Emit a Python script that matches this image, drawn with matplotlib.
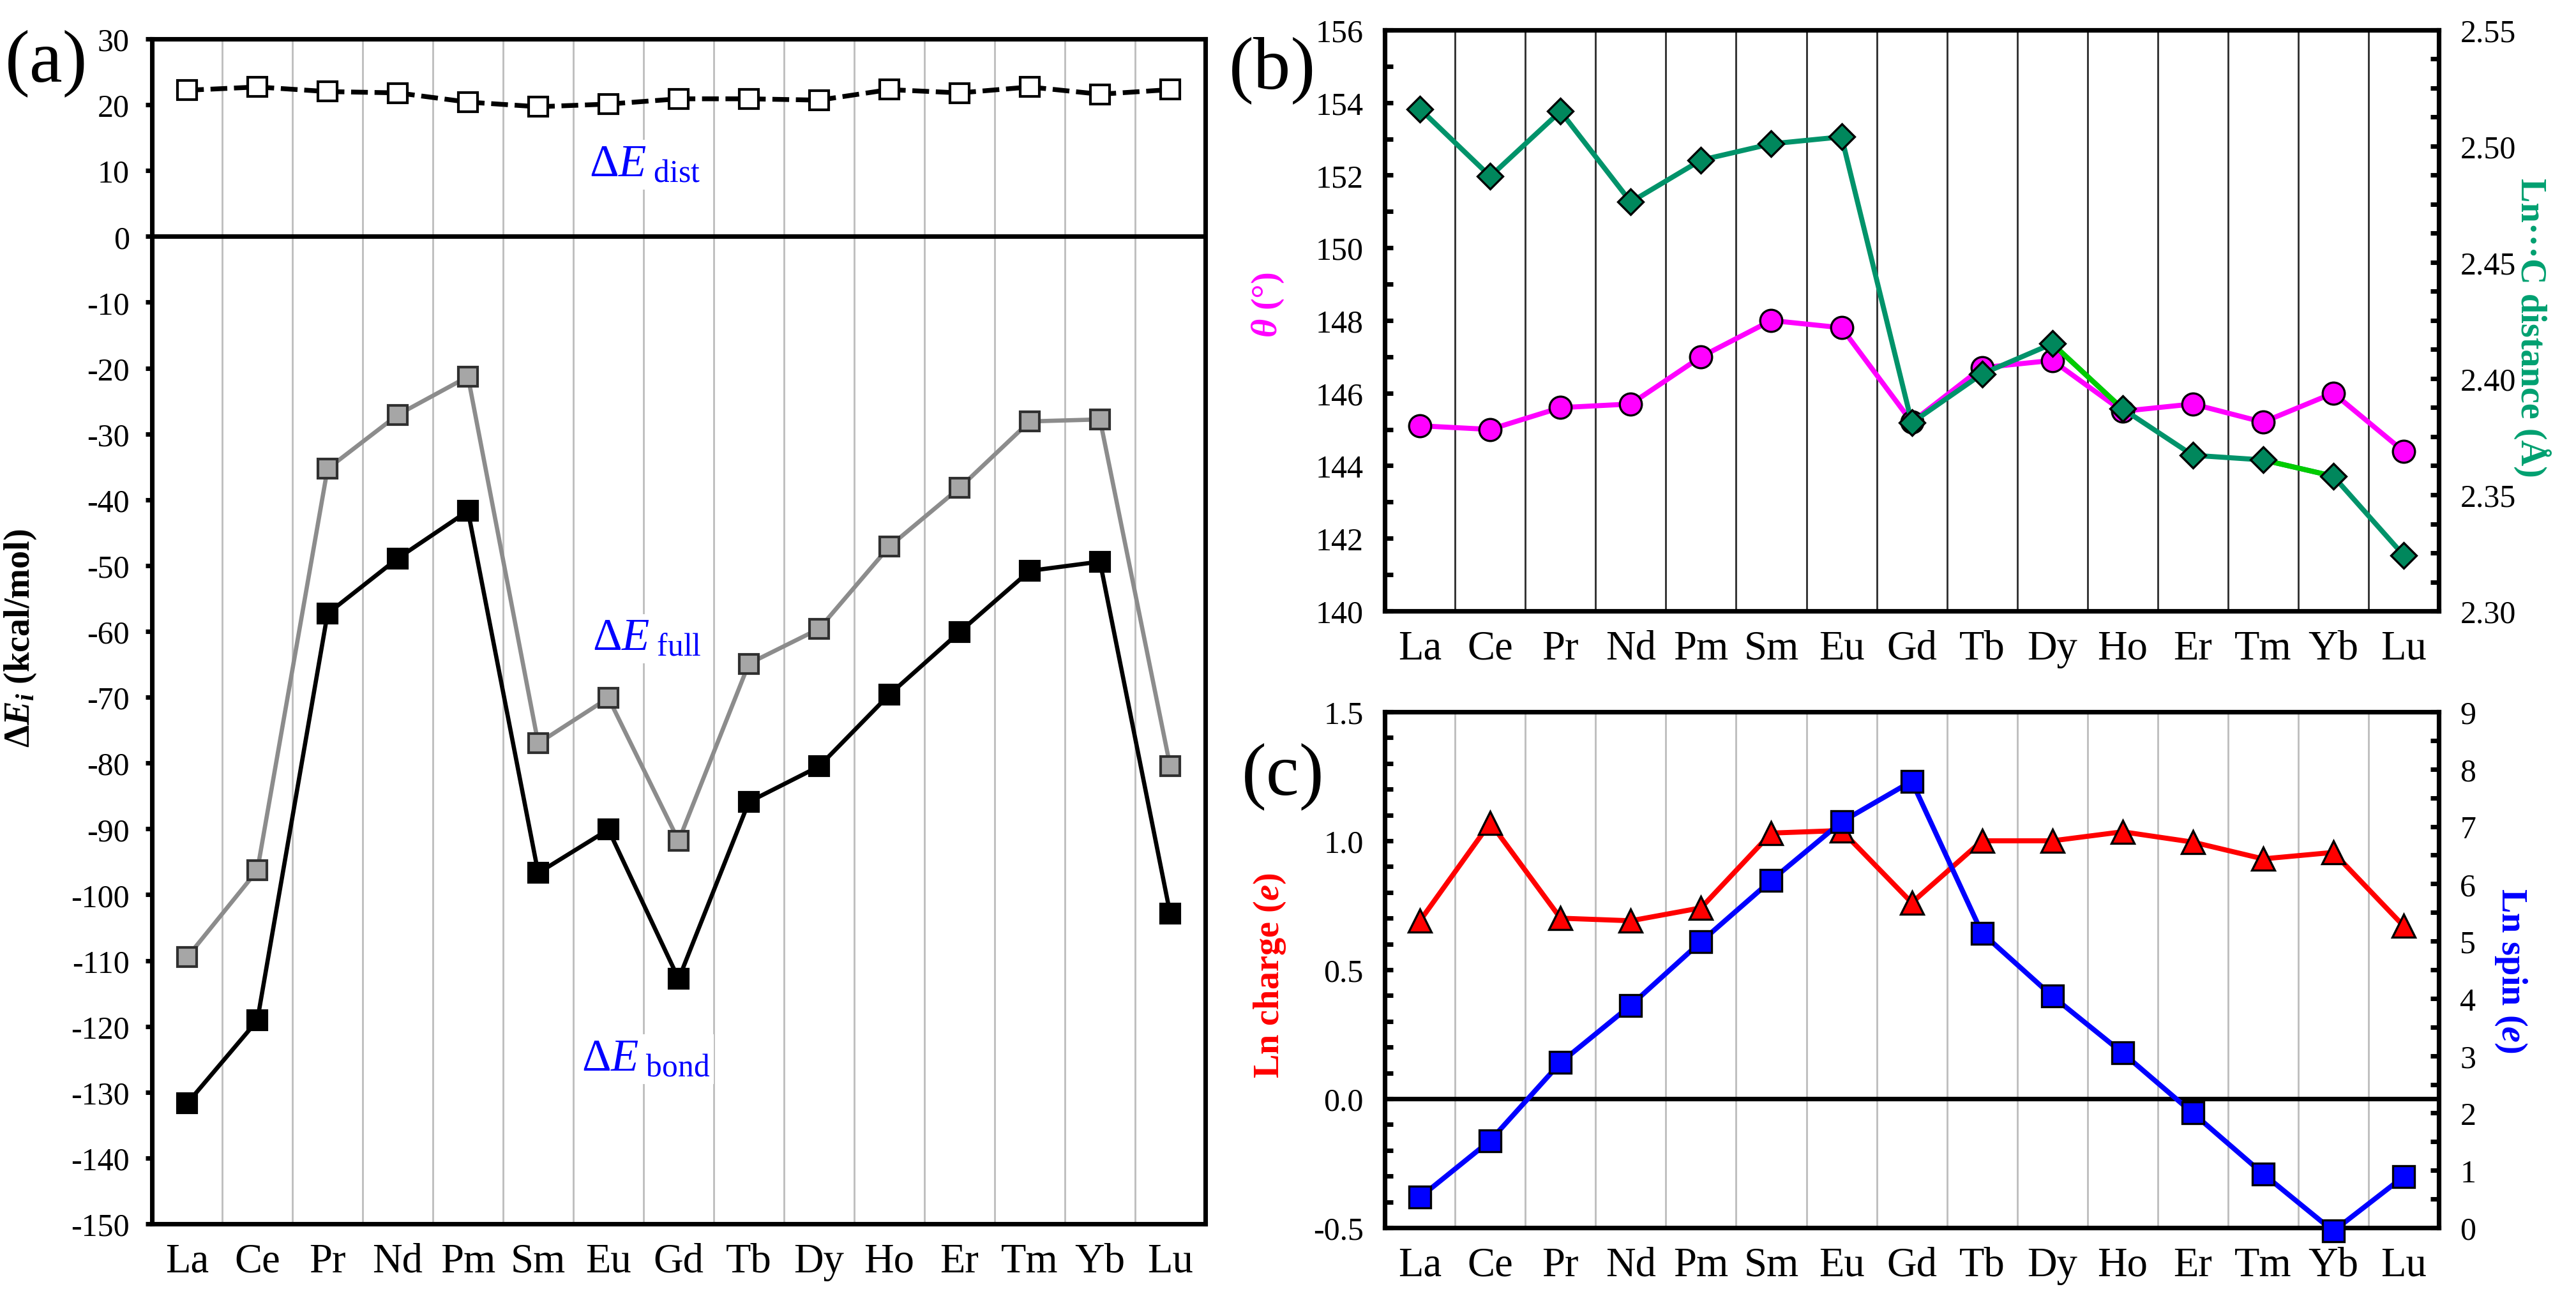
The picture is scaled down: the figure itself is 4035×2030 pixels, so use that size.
import numpy as np
import matplotlib
matplotlib.use('Agg')
import matplotlib.pyplot as plt
from matplotlib.ticker import MultipleLocator, FormatStrFormatter

# --- data ---
lanthanides = ['La', 'Ce', 'Pr', 'Nd', 'Pm', 'Sm', 'Eu', 'Gd',
               'Tb', 'Dy', 'Ho', 'Er', 'Tm', 'Yb', 'Lu']

# (a) energy decomposition, kcal/mol
de_dist = [22.2, 22.7, 22.0, 21.8, 20.4, 19.7, 20.1, 20.9,
           20.9, 20.7, 22.3, 21.8, 22.7, 21.6, 22.3]
de_full = [-109.5, -96.3, -35.3, -27.1, -21.3, -77.0, -70.1, -91.8,
           -64.9, -59.6, -47.1, -38.2, -28.1, -27.8, -80.5]
de_bond = [-131.7, -119.1, -57.3, -48.9, -41.7, -96.7, -90.1, -112.8,
           -85.9, -80.5, -69.6, -60.1, -50.8, -49.4, -102.9]

# (b) angle and Ln...C distance
theta = [145.1, 145.0, 145.6, 145.7, 147.0, 148.0, 147.8, 145.2,
         146.7, 146.9, 145.5, 145.7, 145.2, 146.0, 144.4]
ln_c_dist = [2.516, 2.487, 2.515, 2.476, 2.494, 2.501, 2.504, 2.381,
             2.402, 2.415, 2.387, 2.367, 2.365, 2.358, 2.324]

# (c) charge and spin
ln_charge = [0.69, 1.07, 0.70, 0.69, 0.74, 1.03, 1.04, 0.76,
             1.00, 1.00, 1.035, 0.995, 0.93, 0.955, 0.67]
ln_spin = [0.53, 1.52, 2.88, 3.88, 4.99, 6.06, 7.08, 7.79,
           5.14, 4.04, 3.05, 2.00, 0.94, -0.06, 0.89]

plt.rcParams['font.family'] = ['Liberation Serif', 'DejaVu Serif']
plt.rcParams['mathtext.fontset'] = 'custom'
plt.rcParams['mathtext.rm'] = 'Liberation Serif'
plt.rcParams['mathtext.it'] = 'Liberation Serif:italic'
plt.rcParams['mathtext.bf'] = 'Liberation Serif:bold'
plt.rcParams['mathtext.bfit'] = 'Liberation Serif:italic:bold'
plt.rcParams['axes.unicode_minus'] = False

x = np.arange(len(lanthanides))
SPINE_W = 1.7
LINE_W = 1.9
TEAL = '#00936A'
TEAL_FACE = '#00875C'


def style_category_axis(ax, grid_color, grid_w):
    ax.set_xlim(-0.5, len(lanthanides) - 0.5)
    ax.set_xticks(x)
    ax.set_xticklabels(lanthanides, fontsize=15.5)
    ax.set_xticks(np.arange(0.5, len(lanthanides) - 1), minor=True)
    ax.tick_params(axis='x', which='both', length=0, pad=7)
    ax.grid(True, axis='x', which='minor', color=grid_color, lw=grid_w)
    for s in ax.spines.values():
        s.set_linewidth(SPINE_W)


fig = plt.figure(figsize=(13.45, 6.77), dpi=300)

# ---------------- (a) ----------------
ax_a = fig.add_axes([0.0590, 0.0556, 0.4089, 0.9139])
style_category_axis(ax_a, '#BFBFBF', 0.7)
ax_a.axhline(0, color='black', lw=SPINE_W, zorder=2)
ax_a.plot(x, de_full, color='#8C8C8C', lw=1.6, marker='s', ms=7.2,
          mfc='#A6A6A6', mec='#303030', mew=1.0, zorder=3)
ax_a.plot(x, de_bond, color='black', lw=1.6, marker='s', ms=7.2,
          mfc='black', mec='black', mew=1.0, zorder=3)
ax_a.plot(x, de_dist, color='black', lw=1.8, ls=(0, (3.5, 1.4)), marker='s',
          ms=7.2, mfc='white', mec='black', mew=1.0, zorder=3)
ax_a.set_ylim(-150, 30)
ax_a.yaxis.set_major_locator(MultipleLocator(10))
ax_a.tick_params(axis='y', direction='out', length=2.5, width=SPINE_W,
                 labelsize=12, pad=6)
ax_a.set_ylabel(r'$\mathbf{\Delta}\mathbfit{E}_{\mathbfit{i}}$ (kcal/mol)',
                fontsize=13.5, fontweight='bold')
ax_a.yaxis.set_label_coords(-0.108, 0.495)

box = dict(facecolor='white', edgecolor='none', pad=1.5)
ax_a.text(6.52, 9.2, r'$\Delta E_{\ \mathrm{dist}}$', color='#0000FF',
          fontsize=17, ha='center', va='baseline', bbox=box, zorder=4)
ax_a.text(6.55, -62.8, r'$\Delta E_{\ \mathrm{full}}$', color='#0000FF',
          fontsize=17, ha='center', va='baseline', bbox=box, zorder=4)
ax_a.text(6.53, -126.7, r'$\Delta E_{\ \mathrm{bond}}$', color='#0000FF',
          fontsize=17, ha='center', va='baseline', bbox=box, zorder=4)

# ---------------- (b) ----------------
ax_b = fig.add_axes([0.5376, 0.5283, 0.4091, 0.4481])
style_category_axis(ax_b, '#333333', 0.7)
ax_b.plot(x, theta, color='#FF00FF', lw=LINE_W, marker='o', ms=8.3,
          mfc='#FF00FF', mec='black', mew=0.8, zorder=3)
ax_b.set_ylim(140, 156)
ax_b.yaxis.set_major_locator(MultipleLocator(2))
ax_b.yaxis.set_minor_locator(MultipleLocator(1))
ax_b.tick_params(axis='y', which='both', direction='in', length=3.2,
                 width=SPINE_W, labelsize=12, pad=8)
ax_b.set_ylabel(r'$\mathbfit{\theta}$ (°)', fontsize=13.5,
                fontweight='bold', color='#FF00FF')
ax_b.yaxis.set_label_coords(-0.094, 0.528)

ax_b2 = ax_b.twinx()
for s in ax_b2.spines.values():
    s.set_linewidth(SPINE_W)
ax_b2.plot(x, ln_c_dist, color=TEAL, lw=LINE_W, zorder=2)
ax_b2.plot(x[9:11], ln_c_dist[9:11], color='#00CC00', lw=LINE_W, zorder=2)
ax_b2.plot(x[12:14], ln_c_dist[12:14], color='#00CC00', lw=LINE_W, zorder=2)
ax_b2.plot(x, ln_c_dist, ls='none', marker='D', ms=6.8,
           mfc=TEAL_FACE, mec='black', mew=0.8, zorder=3)
ax_b2.set_ylim(2.30, 2.55)
ax_b2.yaxis.set_major_locator(MultipleLocator(0.05))
ax_b2.yaxis.set_minor_locator(MultipleLocator(0.0125))
ax_b2.yaxis.set_major_formatter(FormatStrFormatter('%.2f'))
ax_b2.tick_params(axis='y', which='both', direction='in', length=3.2,
                  width=SPINE_W, labelsize=12, pad=8)
ax_b2.set_ylabel('Ln\u00b7\u00b7\u00b7C distance (Å)', fontsize=13.5,
                 fontweight='bold', color='#00A070', rotation=270)
ax_b2.yaxis.set_label_coords(1.107, 0.488)

# ---------------- (c) ----------------
ax_c = fig.add_axes([0.5376, 0.0527, 0.4091, 0.3978])
style_category_axis(ax_c, '#BFBFBF', 0.7)
ax_c.axhline(0, color='black', lw=SPINE_W, zorder=2)
ax_c.plot(x, ln_charge, color='#FF0000', lw=LINE_W, marker='^', ms=8.8,
          mfc='#FF0000', mec='black', mew=0.8, zorder=3)
ax_c.set_ylim(-0.5, 1.5)
ax_c.yaxis.set_major_locator(MultipleLocator(0.5))
ax_c.yaxis.set_minor_locator(MultipleLocator(0.1))
ax_c.yaxis.set_major_formatter(FormatStrFormatter('%.1f'))
ax_c.tick_params(axis='y', which='both', direction='in', length=3.2,
                 width=SPINE_W, labelsize=12, pad=8)
ax_c.set_ylabel(r'Ln charge ($\mathbfit{e}$)', fontsize=13.5,
                fontweight='bold', color='#FF0000')
ax_c.yaxis.set_label_coords(-0.0925, 0.49)

ax_c2 = ax_c.twinx()
for s in ax_c2.spines.values():
    s.set_linewidth(SPINE_W)
ax_c2.plot(x, ln_spin, color='#0000FF', lw=LINE_W, marker='s', ms=8.0,
           mfc='#0000FF', mec='black', mew=0.8, zorder=3, clip_on=False)
ax_c2.set_ylim(0, 9)
ax_c2.yaxis.set_major_locator(MultipleLocator(1))
ax_c2.yaxis.set_minor_locator(MultipleLocator(0.5))
ax_c2.tick_params(axis='y', which='both', direction='in', length=3.2,
                  width=SPINE_W, labelsize=12, pad=8)
ax_c2.set_ylabel(r'Ln spin ($\mathbfit{e}$)', fontsize=13.5,
                 fontweight='bold', color='#0000FF', rotation=270)
ax_c2.yaxis.set_label_coords(1.085, 0.499)

# panel letters
fig.text(0.018, 0.951, '(a)', fontsize=28, ha='center', va='center')
fig.text(0.494, 0.946, '(b)', fontsize=28, ha='center', va='center')
fig.text(0.498, 0.401, '(c)', fontsize=28, ha='center', va='center')

fig.savefig('out.png', dpi=300)
